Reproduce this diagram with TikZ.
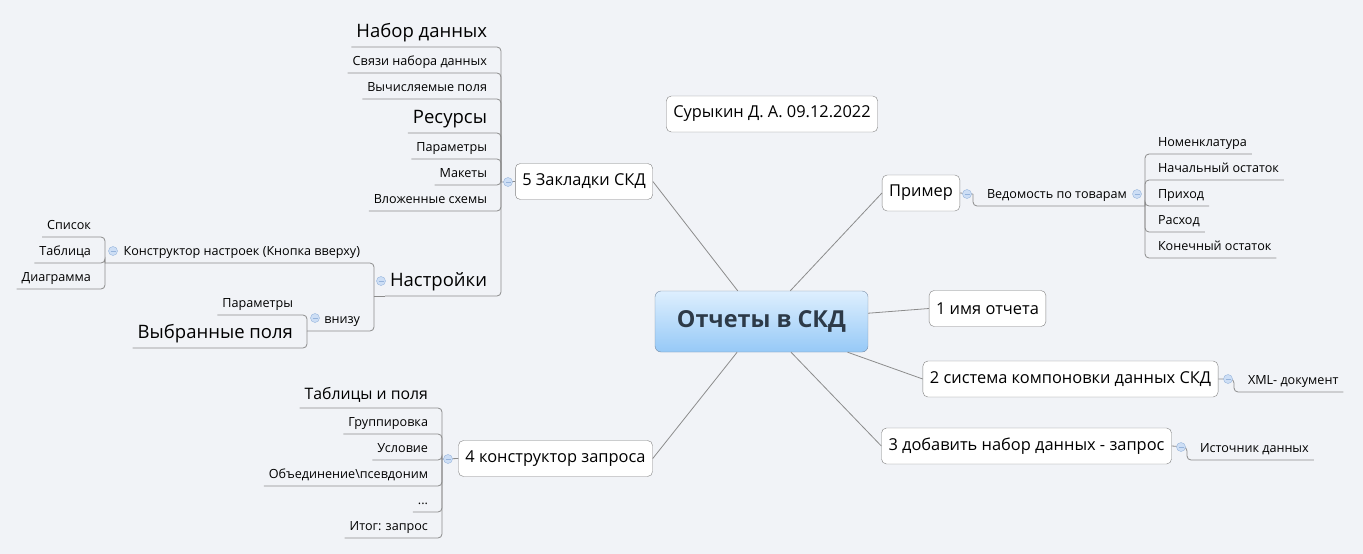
\documentclass[tikz,border=0pt]{standalone}
\usepackage{fontspec}
\setmainfont{Open Sans}
\usepackage{xcolor}
\usepackage{tikz}

\definecolor{bgcol}{RGB}{241,243,247}
\definecolor{linecol}{RGB}{140,140,140}
\definecolor{boxcol}{RGB}{128,128,128}
\definecolor{rootedge}{RGB}{120,140,165}
\definecolor{roottop}{RGB}{222,239,254}
\definecolor{rootbot}{RGB}{150,201,247}
\definecolor{roottext}{RGB}{45,58,72}
\definecolor{dotfill}{RGB}{205,222,245}
\definecolor{dotedge}{RGB}{150,180,220}

\newcommand\fsmall{\fontsize{12.6}{14}\selectfont}
\newcommand\fmid{\fontsize{16.4}{19}\selectfont}
\newcommand\fbig{\fontsize{18.5}{22}\selectfont}

\begin{document}
\begin{tikzpicture}[x=1pt,y=-1pt,
	topic/.style={rectangle,rounded corners=5pt,draw=boxcol,fill=white,font=\fmid,minimum height=36pt,inner xsep=7pt},
	root/.style={rectangle,rounded corners=6pt,draw=rootedge,top color=roottop,bottom color=rootbot,text=roottext,font=\fontsize{23.4}{27}\selectfont\bfseries,minimum width=213pt,minimum height=61pt},
	leaf/.style={inner xsep=5pt,text depth=0pt,outer sep=0pt},
	small/.style={font=\fsmall,inner ysep=7.5pt},
	mid/.style={font=\fontsize{15.8}{18}\selectfont,inner ysep=8.5pt},
	big/.style={font=\fbig,inner ysep=10pt},
	link/.style={draw=linecol,line width=0.8pt},
	branch/.style={draw=linecol,line width=0.8pt,rounded corners=4pt},
	dot/.style={circle,draw=dotedge,fill=dotfill,minimum size=9pt,inner sep=0pt,
		path picture={\draw[dotedge,line width=0.6pt] ([xshift=-2.5pt]path picture bounding box.center)--([xshift=2.5pt]path picture bounding box.center);}}]
	
	\fill[bgcol] (0,0) rectangle (1363,554);
	\useasboundingbox (0,0) rectangle (1363,554);
	
	\node[root] (root) at (761.5,321.5) {Отчеты в СКД};
	\node[topic] (author) at (772,114) {Сурыкин Д. А. 09.12.2022};
	
	\node[topic] (t5) at (584,181.5) {5 Закладки СКД};
	\node[topic] (tp) at (921,193) {Пример};
	\node[topic] (t1) at (987.5,308.5) {1 имя отчета};
	\node[topic] (t2) at (1070.5,379) {2 система компоновки данных СКД};
	\node[topic] (t3) at (1026.5,446) {3 добавить набор данных - запрос};
	\node[topic] (t4) at (555.5,458.5) {4 конструктор запроса};
	
	\draw[link] (root)--(t5.east);
	\draw[link] (root)--(tp.west);
	\draw[link] (root)--(t1.west);
	\draw[link] (root)--(t2.west);
	\draw[link] (root)--(t3.west);
	\draw[link] (root)--(t4.east);
	
	% 5 Закладки СКД
	\coordinate (j5) at (501,182);
	\coordinate (js) at (374,296);
	\draw[branch] (t5.west)--(j5);
	\foreach \i/\y/\s/\name in {1/47/big/Набор данных,2/73/small/Связи набора данных,3/99/small/Вычисляемые поля,4/133/big/Ресурсы,5/159/small/Параметры,6/185/small/Макеты,7/211/small/Вложенные схемы,8/296/big/Настройки}{
		\node[leaf,\s,anchor=south east] (b\i) at (492,\y) {\name};
		\draw[branch] (j5) |- (b\i.south west);
	}
	\draw[branch] (b8.south west)--(js);
	
	% Настройки
	\coordinate (jk) at (105,263);
	\coordinate (jv) at (307,331);
	\node[leaf,small,anchor=south east] (k) at (365,263) {Конструктор настроек (Кнопка вверху)};
	\node[leaf,small,anchor=south east] (v) at (365,331) {внизу};
	\draw[branch] (js) |- (jk);
	\draw[branch] (js) |- (jv);
	
	\foreach \i/\y/\name in {1/237/Список,2/263/Таблица,3/289/Диаграмма}{
		\node[leaf,small,anchor=south east] (k\i) at (96,\y) {\name};
		\draw[branch] (jk) |- (k\i.south west);
	}
	\foreach \i/\y/\s/\name in {1/315/small/Параметры,2/348/big/Выбранные поля}{
		\node[leaf,\s,anchor=south east] (v\i) at (298,\y) {\name};
		\draw[branch] (jv) |- (v\i.south west);
	}
	
	% 4 конструктор запроса
	\coordinate (j4) at (442,459);
	\draw[branch] (t4.west)--(j4);
	\foreach \i/\y/\s/\name in {1/408/mid/Таблицы и поля,2/434/small/Группировка,3/460/small/Условие,4/486/small/Объединение\textbackslash псевдоним,5/512/small/{...},6/538/small/Итог: запрос}{
		\node[leaf,\s,anchor=south east] (q\i) at (433,\y) {\name};
		\draw[branch] (j4) |- (q\i.south west);
	}
	
	% Пример
	\coordinate (jp) at (973,194);
	\coordinate (jw) at (1145,206);
	\draw[branch] (tp.east)--(jp);
	\node[leaf,small,anchor=south west] (w) at (982,206) {Ведомость по товарам};
	\draw[branch] (jp) |- (jw);
	\foreach \i/\y/\name in {1/154/Номенклатура,2/180/Начальный остаток,3/206/Приход,4/232/Расход,5/258/Конечный остаток}{
		\node[leaf,small,anchor=south west] (w\i) at (1153,\y) {\name};
		\draw[branch] (jw) |- (w\i.south east);
	}
	
	% 2 и 3
	\coordinate (j2) at (1234,379);
	\coordinate (j3) at (1187,447);
	\node[leaf,small,anchor=south west] (x) at (1243,392) {XML- документ};
	\node[leaf,small,anchor=south west] (src) at (1195,460) {Источник данных};
	\draw[branch] (t2.east)--(j2) |- (x.south east);
	\draw[branch] (t3.east)--(j3) |- (src.south east);
	
	\foreach \n/\x/\y in {c5/508/182,cs/381/281,ck/113/251,cv/315/318,c4/448/459,cp/967/194,cw/1137/194,c2/1228/379,c3/1181/447}{
		\node[dot] (\n) at (\x,\y) {};
	}
\end{tikzpicture}
\end{document}
